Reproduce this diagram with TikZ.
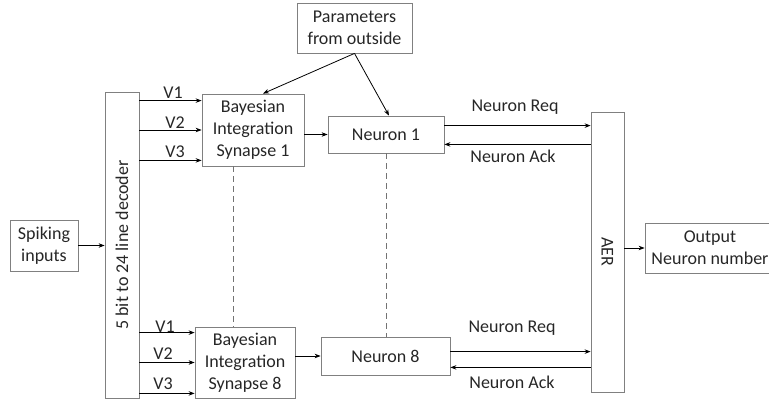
\documentclass[tikz,border=0pt]{standalone}
\usepackage{fontspec}
\setmainfont{Carlito}
\usetikzlibrary{arrows.meta}

\begin{document}
\begin{tikzpicture}[x=1pt,y=-1pt,
  font=\fontsize{18}{22}\selectfont,
  >={Stealth[length=6pt,width=4.5pt]}]
\useasboundingbox (0,0) rectangle (769,400);

\begin{scope}[every node/.style={draw=black!50,line width=0.8pt,align=center,inner sep=0pt,text=black!85}]
  \node[minimum width=68pt,minimum height=51pt] (inp) at (44,245.5) {Spiking\\inputs};
  \node[minimum width=34pt,minimum height=306pt] (dec) at (122,245) {\rotatebox{90}{5 bit to 24 line decoder}};
  \node[minimum width=102pt,minimum height=72pt] (syn1) at (253,130) {Bayesian\\Integration\\Synapse 1};
  \node[minimum width=100pt,minimum height=71pt] (syn8) at (245,362.5) {Bayesian\\Integration\\Synapse 8};
  \node[minimum width=115pt,minimum height=50pt] (par) at (354.5,28) {Parameters\\from outside};
  \node[minimum width=116pt,minimum height=37pt] (n1) at (386,134.5) {Neuron 1};
  \node[minimum width=129pt,minimum height=38pt] (n8) at (385.5,356) {Neuron 8};
  \node[minimum width=33pt,minimum height=280pt] (aer) at (607.5,252) {\rotatebox{-90}{AER}};
  \node[minimum width=130pt,minimum height=50pt] (out) at (710,248) {Output\\Neuron number};
\end{scope}

% decoder outputs
\coordinate (a1) at ([yshift=-7pt]syn1.north west);
\coordinate (a2) at (syn1.west);
\coordinate (a3) at ([yshift=6pt]syn1.south west);
\coordinate (b1) at ([yshift=-6pt]syn8.north west);
\coordinate (b2) at (syn8.west);
\coordinate (b3) at ([yshift=5pt]syn8.south west);
% handshake lines
\coordinate (r1) at ([yshift=-10pt]n1.north east);
\coordinate (k1) at ([yshift=9pt]n1.south east);
\coordinate (r8) at ([yshift=-15pt]n8.north east);
\coordinate (k8) at ([yshift=8pt]n8.south east);

\begin{scope}[every node/.style={inner sep=0pt,text=black!85},
              every path/.style={line width=0.8pt}]
  \draw[->] (inp) -- (inp.east -| dec.west);
  \draw[->] (dec.east |- a1) -- (a1);
  \draw[->] (dec.east |- a2) -- (a2);
  \draw[->] (dec.east |- a3) -- (a3);
  \draw[->] (dec.east |- b1) -- (b1);
  \draw[->] (dec.east |- b2) -- (b2);
  \draw[->] (dec.east |- b3) -- (b3);
  \node at (173,93) {V1};
  \node at (175,123) {V2};
  \node at (175,152) {V3};
  \node at (165,327) {V1};
  \node at (163,354) {V2};
  \node at (163,384) {V3};

  \draw[->] (syn1.east |- n1.west) -- (n1.west);
  \draw[->] (syn8.east |- n8.west) -- (n8.west);
  \draw[->] (par.south) -- ([xshift=10pt]syn1.north);
  \draw[->] (par.south) -- ([xshift=3pt]n1.north);

  \draw[->] (r1) -- (r1 -| aer.west);
  \draw[<-] (k1) -- (k1 -| aer.west);
  \draw[->] (r8) -- (r8 -| aer.west);
  \draw[<-] (k8) -- (k8 -| aer.west);
  \node at (515,107) {Neuron Req};
  \node at (513,156) {Neuron Ack};
  \node at (512,328) {Neuron Req};
  \node at (512,382) {Neuron Ack};

  \draw[->] (aer.east |- out.west) -- (out.west);

  \draw[black!55,dash pattern=on 6pt off 4pt] ([xshift=-20pt]syn1.south) -- ([xshift=-20pt]syn1.south |- syn8.north);
  \draw[black!55,dash pattern=on 6pt off 4pt] (n1.south) -- (n1.south |- n8.north);
\end{scope}
\end{tikzpicture}
\end{document}
